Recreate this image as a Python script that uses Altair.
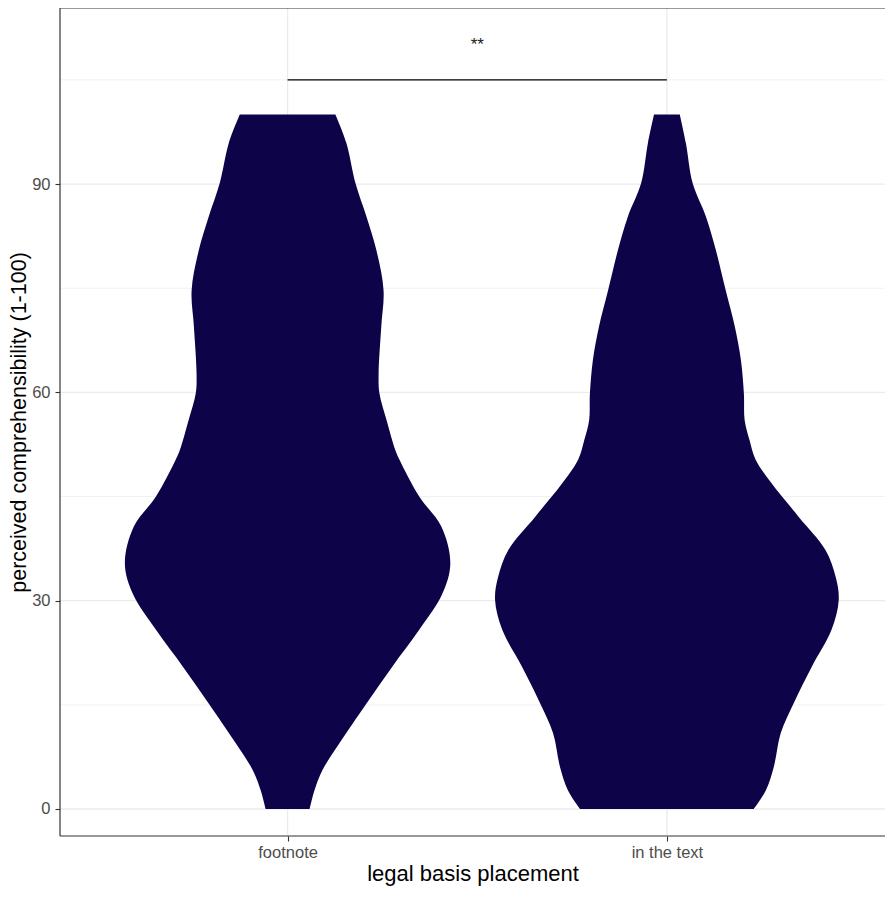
import altair as alt
import pandas as pd

# ---- data ----
categories = ["footnote", "in the text"]
cat_pos = [1, 2]

# violin outline: y value and half-width (in category units)
foot_y = [0, 2.7, 5.6, 9.5, 15.2, 20.5, 25.8, 31.0, 35.4, 40.7, 45.0, 50.3, 51.7,
          56.0, 59.9, 62.7, 69.5, 74.7, 80.5, 85.3, 90.1, 95.9, 100]
foot_hw = [0.058, 0.071, 0.092, 0.137, 0.208, 0.276, 0.347, 0.408, 0.429, 0.405, 0.347,
           0.295, 0.284, 0.261, 0.242, 0.240, 0.247, 0.253, 0.234, 0.208, 0.179, 0.155, 0.126]

text_y = [0, 2.7, 6.1, 10.9, 15.2, 20.5, 25.8, 30.1, 33.4, 37.3, 42.1, 46.9, 50.3,
          53.1, 56.0, 59.8, 64.7, 69.5, 74.7, 80.5, 85.3, 90.1, 95.9, 100]
text_hw = [0.229, 0.261, 0.282, 0.300, 0.334, 0.382, 0.434, 0.453, 0.445, 0.418, 0.347,
           0.276, 0.234, 0.218, 0.205, 0.203, 0.195, 0.179, 0.155, 0.129, 0.103, 0.068,
           0.050, 0.034]

major_y = [0, 30, 60, 90]
minor_y = [15, 45, 75, 105]

signif_label = "**"
signif_y = 105
signif_text_y = 110.0

y_title = "perceived comprehensibility (1-100)"
x_title = "legal basis placement"

FILL = "#0D0349"
FONT = "Liberation Sans"
BORDER = "#333333"

X_DOM = [0.4, 2.575]
Y_DOM = [-3.89, 115.35]

rows = []
for cat, pos, ys, hws in [(categories[0], cat_pos[0], foot_y, foot_hw),
                          (categories[1], cat_pos[1], text_y, text_hw)]:
    for y, hw in zip(ys, hws):
        rows.append({"cat": cat, "y": y, "lo": pos - hw, "hi": pos + hw})
vdf = pd.DataFrame(rows)

xscale = alt.Scale(domain=X_DOM, nice=False, zero=False)
yscale = alt.Scale(domain=Y_DOM, nice=False, zero=False)

label_expr = " : ".join(
    [f"datum.value == {p} ? '{c}'" for p, c in zip(cat_pos[:-1], categories[:-1])]
    + [f"'{categories[-1]}'"]
)

xaxis = alt.Axis(values=cat_pos, labelExpr=label_expr, grid=False, domain=False,
                 tickColor=BORDER, tickWidth=1.1, tickSize=5, labelPadding=3,
                 labelColor="#4D4D4D", labelFontSize=16.5, labelFont=FONT,
                 title=x_title, titleFontSize=22, titleFont=FONT, titleFontWeight="normal",
                 titleColor="#000000", titlePadding=3)
yaxis = alt.Axis(values=major_y, grid=False, domain=False,
                 tickColor=BORDER, tickWidth=1.1, tickSize=5, labelPadding=5,
                 labelColor="#4D4D4D", labelFontSize=16.5, labelFont=FONT,
                 title=y_title, titleFontSize=21.5, titleFont=FONT, titleFontWeight="normal",
                 titleColor="#000000", titlePadding=1)

grid_major = alt.Chart(pd.DataFrame({"y": major_y})).mark_rule(
    color="#EBEBEB", strokeWidth=1.3).encode(y=alt.Y("y:Q", scale=yscale, axis=yaxis))
grid_minor = alt.Chart(pd.DataFrame({"y": minor_y})).mark_rule(
    color="#EFEFEF", strokeWidth=0.9).encode(y=alt.Y("y:Q", scale=yscale))
grid_x = alt.Chart(pd.DataFrame({"x": cat_pos})).mark_rule(
    color="#EBEBEB", strokeWidth=1.3).encode(x=alt.X("x:Q", scale=xscale, axis=xaxis))

violins = alt.Chart(vdf).mark_area(orient="horizontal", interpolate="catmull-rom",
                                   color=FILL).encode(
    y=alt.Y("y:Q", scale=yscale),
    x=alt.X("lo:Q", scale=xscale),
    x2="hi:Q",
    detail="cat:N",
)

bracket = alt.Chart(pd.DataFrame({"x": [cat_pos[0]], "x2": [cat_pos[1]], "y": [signif_y]})).mark_rule(
    color="#000000", strokeWidth=1.4).encode(
    x=alt.X("x:Q", scale=xscale), x2="x2:Q", y=alt.Y("y:Q", scale=yscale))

stars = alt.Chart(pd.DataFrame({"x": [(cat_pos[0] + cat_pos[1]) / 2], "y": [signif_text_y],
                                "t": [signif_label]})).mark_text(
    font=FONT, fontSize=17, color="#1A1A1A", baseline="middle", align="center").encode(
    x=alt.X("x:Q", scale=xscale), y=alt.Y("y:Q", scale=yscale), text="t:N")

# panel border: left, top, bottom (right edge falls outside the picture)
border_h = alt.Chart(pd.DataFrame({"y": [Y_DOM[0], Y_DOM[1]]})).mark_rule(
    color=BORDER, strokeWidth=1.2).encode(y=alt.Y("y:Q", scale=yscale))
border_v = alt.Chart(pd.DataFrame({"x": [X_DOM[0]]})).mark_rule(
    color=BORDER, strokeWidth=1.2).encode(x=alt.X("x:Q", scale=xscale))

chart = alt.layer(grid_major, grid_minor, grid_x, violins, bracket, stars,
                  border_h, border_v).properties(
    width=825, height=828,
    background="white",
    autosize=alt.AutoSizeParams(type="none"),
    padding={"left": 52, "top": 0, "right": 0, "bottom": 50},
).configure_view(stroke=None)

chart.save("out.html", embed_options={"renderer": "svg", "actions": False})
